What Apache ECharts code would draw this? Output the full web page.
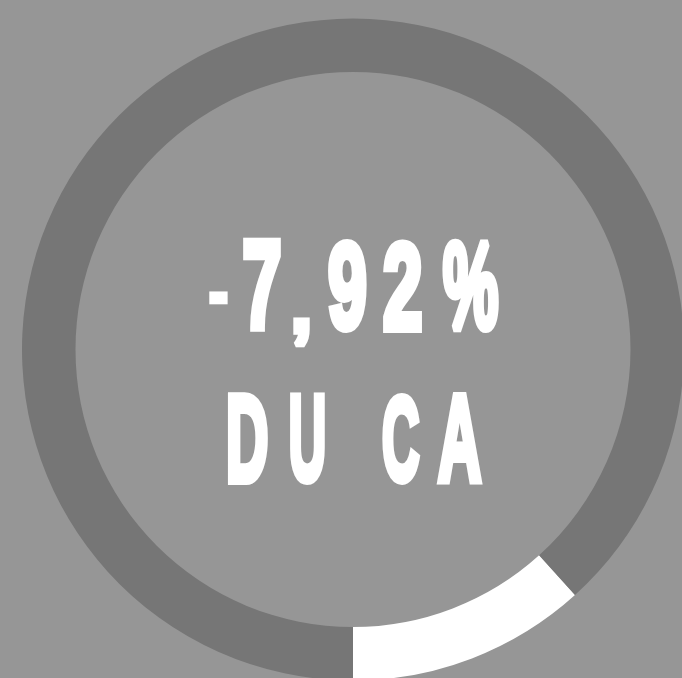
<!DOCTYPE html>
<html>
<head>
<meta charset="utf-8">
<script src="https://cdn.jsdelivr.net/npm/echarts@6/dist/echarts.min.js"></script>
<style>
html,body{margin:0;padding:0;background:#969696;}
#chart{width:682px;height:678px;}
</style>
</head>
<body>
<div id="chart"></div>
<script>
// Data
var categories = ['Baisse', 'Reste'];
var values = [11.7, 88.3];
var line1Chars = ['-', '7', ',', '9', '2', '%'];
var line2Chars = ['D', 'U', 'C', 'A'];

// Layout: ink boxes [left, right, top, bottom] for each character
var line1Boxes = [
  [209, 228, 292, 305],
  [243, 281, 238, 333],
  [293, 310, 317, 347],
  [328, 367, 238, 333],
  [383, 422, 238, 333],
  [442, 499, 238, 333]
];
var line2Boxes = [
  [228, 268, 392, 485],
  [290, 325, 392, 485],
  [382, 420, 392, 485],
  [437, 482, 392, 485]
];

var FONT = 'bold 120px "Liberation Sans Narrow", "Liberation Sans", sans-serif';
var SW = 8;   // stroke width (local) to make glyphs heavier

var mctx = document.createElement('canvas').getContext('2d');

function fitChar(c, box) {
  mctx.font = FONT;
  mctx.textAlign = 'center';
  mctx.textBaseline = 'middle';
  var m = mctx.measureText(c);
  var l = -m.actualBoundingBoxLeft - SW / 2;
  var r = m.actualBoundingBoxRight + SW / 2;
  var t = -m.actualBoundingBoxAscent - SW / 2;
  var b = m.actualBoundingBoxDescent + SW / 2;
  var sx = (box[1] - box[0]) / (r - l);
  var sy = (box[3] - box[2]) / (b - t);
  return {
    type: 'text',
    x: box[0] - sx * l,
    y: box[2] - sy * t,
    scaleX: sx,
    scaleY: sy,
    silent: true,
    style: {
      text: c,
      fill: '#ffffff',
      stroke: '#ffffff',
      lineWidth: SW,
      lineJoin: 'miter',
      miterLimit: 2,
      font: FONT,
      align: 'center',
      verticalAlign: 'middle'
    }
  };
}

var chart = echarts.init(document.getElementById('chart'), null, {renderer: 'canvas'});

var textEls = line1Chars.map(function (c, i) { return fitChar(c, line1Boxes[i]); })
  .concat(line2Chars.map(function (c, i) { return fitChar(c, line2Boxes[i]); }));

chart.setOption({
  backgroundColor: '#969696',
  animation: false,
  series: [{
    type: 'pie',
    center: [353, 349.5],
    radius: [277.5, 331],
    startAngle: -90,
    clockwise: false,
    silent: true,
    label: {show: false},
    labelLine: {show: false},
    itemStyle: {borderWidth: 0},
    data: categories.map(function (n, i) {
      return {name: n, value: values[i], itemStyle: {color: i === 0 ? '#ffffff' : '#767676'}};
    })
  }],
  graphic: textEls
});
</script>
</body>
</html>
